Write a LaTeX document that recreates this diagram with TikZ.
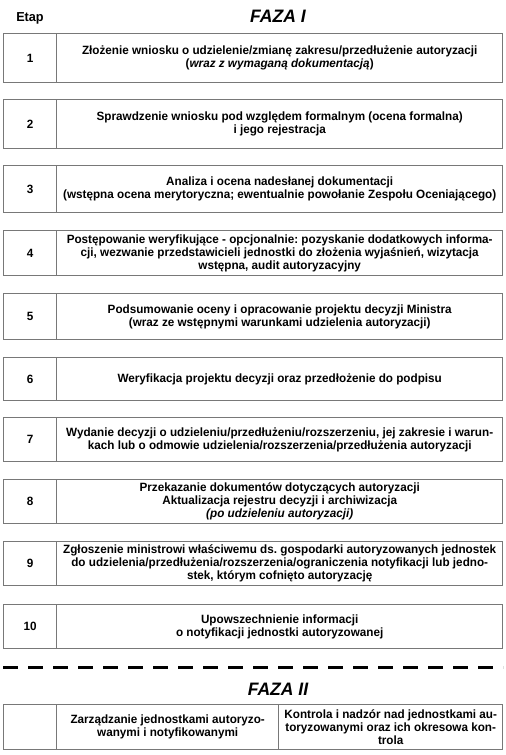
\documentclass[tikz,border=0pt]{standalone}
\usepackage{fontspec}
\setmainfont{Liberation Sans}[FakeStretch=0.975]
\usepackage{tikz}
\frenchspacing

\definecolor{framegray}{RGB}{120,120,120}

\tikzset{
  etapnum/.style={draw=framegray, line width=1.4pt, minimum width=53pt, minimum height=#1,
    anchor=north west, inner sep=0pt, font=\bfseries\fontsize{12}{13}\selectfont},
  etaptext/.style={draw=framegray, line width=1.4pt, minimum width=446pt, inner xsep=1pt, inner ysep=0pt,
    minimum height=#1, anchor=north west, align=center, font=\bfseries\fontsize{12}{13}\selectfont},
  faza/.style={font=\bfseries\itshape\fontsize{18}{20}\selectfont}
}

\begin{document}
\begin{tikzpicture}[x=1pt, y=-1pt]

\useasboundingbox (0, 0) rectangle (506, 755);

\node[font=\bfseries\fontsize{13}{14}\selectfont] (etap) at (30, 18) {Etap};
\node[faza] (faza1) at (278, 16.5) {FAZA I};

% etap 1
\node[etapnum=49pt] (n1) at (3, 33) {1};
\node[etaptext=49pt] (t1) at (56, 33) {Złożenie wniosku o udzielenie/zmianę zakresu/przedłużenie autoryzacji\\
(\textit{wraz z wymaganą dokumentacją})};

% etap 2
\node[etapnum=49pt] (n2) at (3, 99) {2};
\node[etaptext=49pt] (t2) at (56, 99) {Sprawdzenie wniosku pod względem formalnym (ocena formalna)\\
i jego rejestracja};

% etap 3
\node[etapnum=47pt] (n3) at (3, 165) {3};
\node[etaptext=47pt] (t3) at (56, 165) {Analiza i ocena nadesłanej dokumentacji\\
(wstępna ocena merytoryczna; ewentualnie powołanie Zespołu Oceniającego)};

% etap 4
\node[etapnum=45pt] (n4) at (3, 230) {4};
\node[etaptext=45pt] (t4) at (56, 230) {Postępowanie weryfikujące - opcjonalnie: pozyskanie dodatkowych informa-\\
cji, wezwanie przedstawicieli jednostki do złożenia wyjaśnień, wizytacja\\
wstępna, audit autoryzacyjny};

% etap 5
\node[etapnum=46pt] (n5) at (3, 293) {5};
\node[etaptext=46pt] (t5) at (56, 293) {Podsumowanie oceny i opracowanie projektu decyzji Ministra\\
(wraz ze wstępnymi warunkami udzielenia autoryzacji)};

% etap 6
\node[etapnum=43pt] (n6) at (3, 357) {6};
\node[etaptext=43pt] (t6) at (56, 357) {Weryfikacja projektu decyzji oraz przedłożenie do podpisu};

% etap 7
\node[etapnum=44pt] (n7) at (3, 417) {7};
\node[etaptext=44pt] (t7) at (56, 417) {Wydanie decyzji o udzieleniu/przedłużeniu/rozszerzeniu, jej zakresie i warun-\\
kach lub o odmowie udzielenia/rozszerzenia/przedłużenia autoryzacji};

% etap 8
\node[etapnum=44pt] (n8) at (3, 479) {8};
\node[etaptext=44pt] (t8) at (56, 479) {Przekazanie dokumentów dotyczących autoryzacji\\
Aktualizacja rejestru decyzji i archiwizacja\\
\textit{(po udzieleniu autoryzacji)}};

% etap 9
\node[etapnum=44pt] (n9) at (3, 541) {9};
\node[etaptext=44pt] (t9) at (56, 541) {Zgłoszenie ministrowi właściwemu ds. gospodarki autoryzowanych jednostek\\
do udzielenia/przedłużenia/rozszerzenia/ograniczenia notyfikacji lub jedno-\\
stek, którym cofnięto autoryzację};

% etap 10
\node[etapnum=44pt] (n10) at (3, 604) {10};
\node[etaptext=44pt] (t10) at (56, 604) {Upowszechnienie informacji\\
o notyfikacji jednostki autoryzowanej};

% granica faz
\coordinate (cut1) at (3, 667);
\coordinate (cut2) at (503, 667);
\draw[line width=3pt, dash pattern=on 15pt off 10pt] (cut1) -- (cut2);

\node[faza] (faza2) at (278, 689) {FAZA II};

\node[etapnum=45pt] (n11) at (3, 704) {};
\node[etaptext=45pt, minimum width=222pt] (t11) at (56, 704) {Zarządzanie jednostkami autoryzo-\\
wanymi i notyfikowanymi};
\node[etaptext=45pt, minimum width=224pt] (t12) at (278, 704) {Kontrola i nadzór nad jednostkami au-\\
toryzowanymi oraz ich okresowa kon-\\
trola};

\end{tikzpicture}
\end{document}
